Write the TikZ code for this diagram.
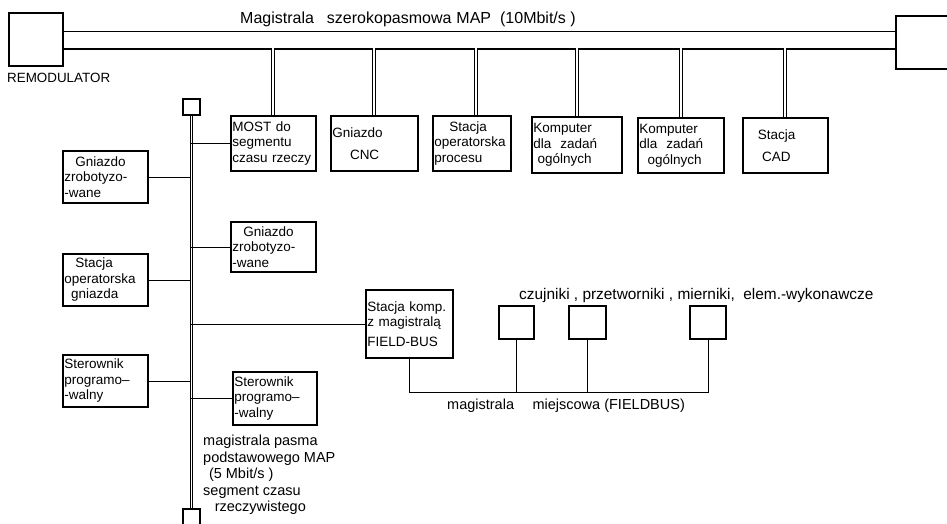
\documentclass[tikz,border=0pt]{standalone}
\usepackage{fontspec}
\setmainfont{Liberation Sans}
\usetikzlibrary{positioning,calc}
\newcommand{\bx}{\fontsize{13.5}{15.5}\selectfont}

\begin{document}
\begin{tikzpicture}[x=1pt,y=-1pt,
  blok/.style={draw,line width=1.9pt,inner sep=1.5pt,align=left,anchor=north west,font=\bx},
  kw/.style={draw,line width=1.9pt,anchor=north west,inner sep=0pt},
  lbl/.style={inner sep=0pt,font=\fontsize{14.5}{16.5}\selectfont},
  dbl/.style={double,double distance=2pt,line width=1pt},
  pol/.style={line width=0.9pt}]
  \useasboundingbox (0,0) rectangle (947,523);
  \clip (0,0) rectangle (947,523);

  % magistrala szerokopasmowa
  \node[kw,minimum width=54pt,minimum height=53pt] (remod) at (8,12) {};
  \node[kw,minimum width=80pt,minimum height=53pt] (rbox) at (895,15) {};
  \node[lbl,anchor=west,font=\fontsize{13.4}{15}\selectfont] (remodlbl) at (7,78) {REMODULATOR};
  \node[lbl,anchor=west,font=\fontsize{16}{18}\selectfont] (maplbl) at (240,19) {Magistrala\hspace{13pt}szerokopasmowa\hspace{5pt}MAP\hspace{9pt}(10Mbit/s )};
  \draw[line width=1.2pt] ([yshift=8pt]remod.east) -- ([yshift=8pt]remod.east -| rbox.west);
  \draw[line width=1.2pt] ([yshift=-9.5pt]remod.east) -- ([yshift=-9.5pt]remod.east -| rbox.west);
  \coordinate (busB) at (0,48);

  \node[blok,text width=82pt,minimum height=55pt] (most) at (230,115) {MOST do\\segmentu\\czasu rzeczy};
  \node[blok,text width=84pt,minimum height=55pt] (cnc) at (330,115) {Gniazdo\\[6pt]\hspace*{1.3em}CNC};
  \node[blok,text width=75pt,minimum height=55pt] (proc) at (432,115) {\hspace*{1.1em}Stacja\\operatorska\\procesu};
  \node[blok,text width=87pt,minimum height=56pt] (komp1) at (531,116) {Komputer\\dla \ zadań\\\hspace*{0.3em}ogólnych};
  \node[blok,text width=83pt,minimum height=55pt] (komp2) at (637,117) {Komputer\\dla \ zadań\\\hspace*{0.6em}ogólnych};
  \node[blok,text width=82pt,minimum height=55pt] (cad) at (742,117) {\hspace*{1em}Stacja\\[6pt]\hspace*{1.3em}CAD};
  \foreach \n in {most,cnc,komp1,komp2,cad}
    \draw[dbl] (\n.north) -- (\n.north |- busB);
  \draw[dbl] ([xshift=4pt]proc.north) -- ([xshift=4pt]proc.north |- busB);

  % magistrala pasma podstawowego
  \node[kw,minimum width=17pt,minimum height=16pt] (sqT) at (182,98) {};
  \node[kw,minimum width=17pt,minimum height=20pt] (sqB) at (182,508) {};
  \draw[dbl,line width=1pt,double distance=1.6pt] (sqT.south) -- (sqB.north);

  \node[blok,text width=82pt,minimum height=52pt] (g1) at (62,150) {\hspace*{0.8em}Gniazdo\\zrobotyzo-\\-wane};
  \node[blok,text width=82pt,minimum height=52pt] (sog) at (62,253) {\hspace*{0.8em}Stacja\\operatorska\\\hspace*{0.5em}gniazda};
  \node[blok,text width=82pt,minimum height=52pt] (ster1) at (62,354) {Sterownik\\programo--\\-walny};
  \node[blok,text width=82pt,minimum height=50pt] (g2) at (230,221) {\hspace*{0.8em}Gniazdo\\zrobotyzo-\\-wane};
  \node[blok,text width=81pt,minimum height=53pt] (ster2) at (232,371) {Sterownik\\programo--\\-walny};
  \node[blok,text width=84pt,minimum height=68pt] (fb) at (365,289) {Stacja komp.\\z magistralą\\[4pt]FIELD-BUS};

  \foreach \n in {most,g2,ster2,fb}
    \draw[pol] (\n.west) -- (\n.west -| sqT);
  \foreach \n in {g1,sog,ster1}
    \draw[pol] (\n.east) -- (\n.east -| sqT);

  \node[lbl,anchor=north west,align=left] (segm) at (203,435) {magistrala pasma\\podstawowego MAP\\\hspace*{0.4em}(5 Mbit/s )\\segment czasu\\\hspace*{0.8em}rzeczywistego};

  % magistrala miejscowa
  \node[kw,minimum width=35pt,minimum height=33pt] (s1) at (498,305) {};
  \node[kw,minimum width=37pt,minimum height=33pt] (s2) at (568,305) {};
  \node[kw,minimum width=36pt,minimum height=33pt] (s3) at (689,305) {};
  \node[lbl,anchor=west,font=\fontsize{15.4}{16}\selectfont] (czuj) at (519,296) {czujniki , przetworniki , mierniki, \ elem.-wykonawcze};
  \coordinate (fbline) at (0,392);
  \draw[pol] (fb.south) |- (s3.south |- fbline) -- (s3.south);
  \draw[pol] (s1.south) -- (s1.south |- fbline);
  \draw[pol] (s2.south) -- (s2.south |- fbline);
  \node[lbl,anchor=west] (fblbl) at (447,406) {magistrala \quad miejscowa (FIELDBUS)};
\end{tikzpicture}
\end{document}
